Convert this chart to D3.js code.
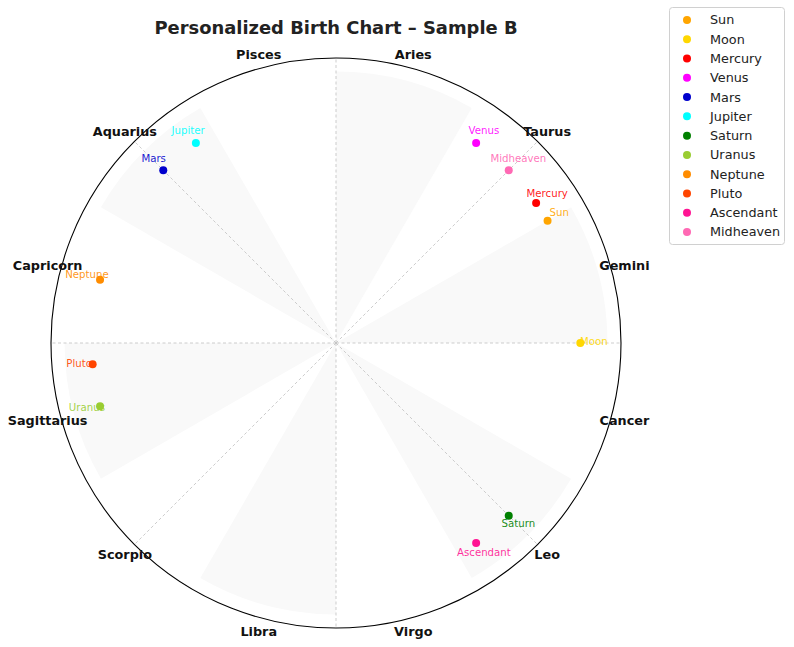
<!DOCTYPE html>
<html>
<head>
<meta charset="utf-8">
<script src="https://cdn.jsdelivr.net/npm/d3@7"></script>
<style>
  html, body { margin: 0; padding: 0; background: #fff; }
  svg { display: block; font-family: "DejaVu Sans", sans-serif; }
</style>
</head>
<body>
<svg id="chart" width="794" height="647"></svg>
<script>
// ---- data ----
const signs = ["Aries", "Taurus", "Gemini", "Cancer", "Leo", "Virgo",
               "Libra", "Scorpio", "Sagittarius", "Capricorn", "Aquarius", "Pisces"];
const signShaded = [1, 0, 1, 0, 1, 0, 1, 0, 1, 0, 1, 0];
const bodies = ["Sun", "Moon", "Mercury", "Venus", "Mars", "Jupiter",
                "Saturn", "Uranus", "Neptune", "Pluto", "Ascendant", "Midheaven"];
const bodyDegrees = [60, 90, 55, 35, 315, 325, 135, 255, 285, 265, 145, 45];
const bodyColors = ["#FFA500", "#FFD700", "#FF0000", "#FF00FF", "#0000CD", "#00FFFF",
                    "#008000", "#9ACD32", "#FF8C00", "#FF4500", "#FF1493", "#FF69B4"];
const gridDegrees = [0, 45, 90, 135, 180, 225, 270, 315];
const title = "Personalized Birth Chart \u2013 Sample B";

// ---- layout ----
const cx = 336, cy = 343, R = 285;
const svg = d3.select("#chart");
const r = d3.scaleLinear().domain([0, 1.05]).range([0, R]);
const ang = d3.scaleLinear().domain([0, 360]).range([0, 2 * Math.PI]);
const px = (deg, v) => cx + r(v) * Math.sin(ang(deg));
const py = (deg, v) => cy - r(v) * Math.cos(ang(deg));

const g = svg.append("g").attr("transform", `translate(${cx},${cy})`);

// shaded sign wedges
const arc = d3.arc();
g.selectAll("path.wedge")
  .data(signs.map((s, i) => ({ s, i })).filter(d => signShaded[d.i]))
  .join("path")
  .attr("class", "wedge")
  .attr("d", d => arc({ innerRadius: 0, outerRadius: r(1),
                        startAngle: ang(d.i * 30), endAngle: ang(d.i * 30 + 30) }))
  .attr("fill", "#f9f9f9");

// angular gridlines
g.selectAll("line.grid")
  .data(gridDegrees)
  .join("line")
  .attr("class", "grid")
  .attr("x1", 0).attr("y1", 0)
  .attr("x2", d => px(d, 1.05) - cx)
  .attr("y2", d => py(d, 1.05) - cy)
  .attr("stroke", "#c0c0c0")
  .attr("stroke-width", 0.8)
  .attr("stroke-dasharray", "3,2.5");

// outer circle
g.append("circle").attr("r", r(1.05))
  .attr("fill", "none").attr("stroke", "#000").attr("stroke-width", 1.1);

// body labels
svg.selectAll("text.blabel")
  .data(bodies.map((b, i) => ({ b, i })))
  .join("text")
  .attr("class", "blabel")
  .attr("x", d => px(bodyDegrees[d.i], 0.95))
  .attr("y", d => py(bodyDegrees[d.i], 0.95))
  .attr("dy", "0.17em")
  .attr("text-anchor", "middle")
  .attr("font-size", "10.2px")
  .attr("fill", d => bodyColors[d.i])
  .attr("fill-opacity", 0.9)
  .text(d => d.b);

// body points
svg.selectAll("circle.pt")
  .data(bodies.map((b, i) => ({ b, i })))
  .join("circle")
  .attr("class", "pt")
  .attr("cx", d => px(bodyDegrees[d.i], 0.9))
  .attr("cy", d => py(bodyDegrees[d.i], 0.9))
  .attr("r", 4)
  .attr("fill", d => bodyColors[d.i]);

// sign labels
svg.selectAll("text.sign")
  .data(signs.map((s, i) => ({ s, i })))
  .join("text")
  .attr("class", "sign")
  .attr("x", d => px(d.i * 30 + 15, 1.1))
  .attr("y", d => py(d.i * 30 + 15, 1.1))
  .attr("dy", "0.35em")
  .attr("text-anchor", "middle")
  .attr("font-size", "12.8px")
  .attr("font-weight", "bold")
  .attr("fill", "#111")
  .text(d => d.s);

// title
svg.append("text")
  .attr("x", cx).attr("y", 34)
  .attr("text-anchor", "middle")
  .attr("font-size", "17.9px")
  .attr("font-weight", "bold")
  .attr("fill", "#222")
  .text(title);

// legend
const lg = svg.append("g").attr("transform", "translate(669.5,7.5)");
lg.append("rect").attr("width", 115).attr("height", 237).attr("rx", 3)
  .attr("fill", "#fff").attr("stroke", "#d0d0d0").attr("stroke-width", 1);
const ly = d3.scalePoint().domain(bodies).range([12.5, 224.5]);
const items = lg.selectAll("g.item").data(bodies.map((b, i) => ({ b, i }))).join("g")
  .attr("class", "item")
  .attr("transform", d => `translate(0,${ly(d.b)})`);
items.append("circle").attr("cx", 17.5).attr("cy", 0).attr("r", 4)
  .attr("fill", d => bodyColors[d.i]);
items.append("text").attr("x", 40.5).attr("y", 0).attr("dy", "0.35em")
  .attr("font-size", "12.8px").attr("fill", "#222").text(d => d.b);
</script>
</body>
</html>
